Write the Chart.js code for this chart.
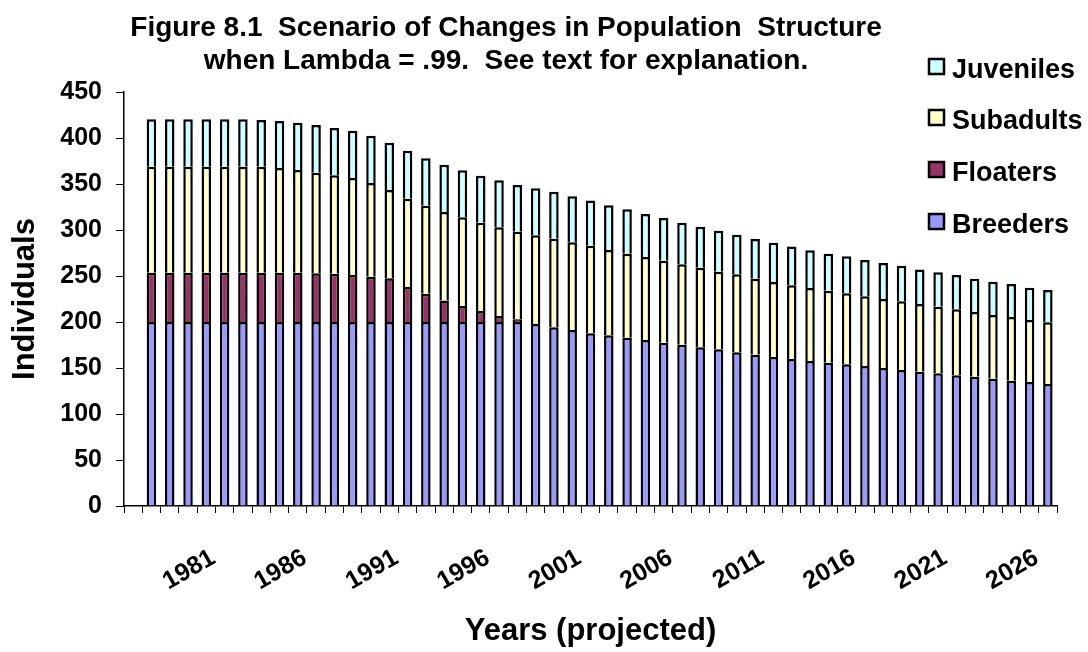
<!DOCTYPE html>
<html>
<head>
<meta charset="utf-8">
<script src="https://cdn.jsdelivr.net/npm/chart.js@4.4.1/dist/chart.umd.min.js"></script>
<style>
  html, body { margin: 0; padding: 0; background: #ffffff; }
  #wrap { position: relative; width: 1088px; height: 652px; background: #ffffff; }
  canvas { display: block; }
</style>
</head>
<body>
<div id="wrap"><canvas id="c" width="1088" height="652"></canvas></div>
<script>
// ---------------- data ----------------
const years = ['1977','1978','1979','1980','1981','1982','1983','1984','1985','1986',
  '1987','1988','1989','1990','1991','1992','1993','1994','1995','1996',
  '1997','1998','1999','2000','2001','2002','2003','2004','2005','2006',
  '2007','2008','2009','2010','2011','2012','2013','2014','2015','2016',
  '2017','2018','2019','2020','2021','2022','2023','2024','2025','2026','2027'];

const breeders = [null,
  200,200,200,200,200,200,200,200,200,200,
  200,200,200,200,200,200,200,200,200,200,200,
  197.8,194.2,191.3,187.7,185.5,183.0,180.4,177.5,175.4,172.5,
  170.3,167.0,164.5,162.0,159.8,157.6,155.8,154.0,152.2,150.0,
  147.8,146.0,144.2,142.0,140.6,138.4,136.2,134.8,132.6];

const floaters = [null,
  53.6,53.6,53.6,53.6,53.6,53.6,53.6,53.6,53.6,52.9,
  52.5,51.1,49.3,47.5,38.1,30.8,23.5,17.4,11.9,6.5,2.9,
  0,0,0,0,0,0,0,0,0,0,
  0,0,0,0,0,0,0,0,0,0,
  0,0,0,0,0,0,0,0,0];

const subadults = [null,
  115.2,115.2,115.2,115.2,115.2,115.2,115.2,113.8,111.6,109.4,
  106.9,105.4,101.8,96.0,95.9,95.6,96.1,96.4,96.1,96.4,95.3,
  96.4,96.4,95.3,95.3,92.8,91.3,90.2,89.2,87.3,86.6,
  84.4,84.8,82.6,81.5,80.1,79.3,78.3,77.2,75.7,75.0,
  74.7,73.6,72.5,71.8,70.3,69.2,69.2,67.4,67.0];

const juveniles = [null,
  51.5,51.5,51.5,51.5,51.5,51.5,50.8,51.1,51.5,51.8,
  51.5,51.5,51.4,51.4,52.2,51.5,51.4,51.1,51.1,51.1,50.7,
  51.1,51.1,50.0,49.2,48.5,48.2,46.8,46.3,45.3,44.5,
  44.6,43.1,43.1,42.7,42.3,41.0,40.2,40.2,39.5,39.1,
  38.7,37.6,37.3,37.3,36.2,36.2,35.9,35.1,35.2];

const yTicks = [0,50,100,150,200,250,300,350,400,450];
const titleLines = ['Figure 8.1  Scenario of Changes in Population  Structure',
                    'when Lambda = .99.  See text for explanation.'];
const seriesNames = ['Breeders','Floaters','Subadults','Juveniles'];
const seriesColors = ['#9999FF','#993366','#FFFFCC','#CCFFFF'];

// ---------------- chart ----------------
const FONT = "'Liberation Sans', Arial, Helvetica, sans-serif";

const decorPlugin = {
  id: 'decor',
  beforeDraw(chart) {
    const ctx = chart.ctx;
    ctx.save();
    ctx.fillStyle = '#ffffff';
    ctx.fillRect(0, 0, chart.width, chart.height);
    ctx.restore();
  },
  afterDraw(chart) {
    const ctx = chart.ctx;
    ctx.save();
    // title
    ctx.fillStyle = '#000000';
    ctx.font = 'bold 28px ' + FONT;
    ctx.textAlign = 'center';
    ctx.textBaseline = 'middle';
    ctx.fillText(titleLines[0], 506, 28);
    ctx.fillText(titleLines[1], 506, 61);
    // legend (reverse order, like the reference)
    const ys = [71, 122, 174, 226];
    const ds = chart.data.datasets;
    for (let i = 0; i < ds.length; i++) {
      const d = ds[ds.length - 1 - i];
      const y = ys[i];
      ctx.fillStyle = d.backgroundColor;
      ctx.fillRect(929, y - 12, 15, 15);
      ctx.lineWidth = 2.5;
      ctx.strokeStyle = '#000000';
      ctx.strokeRect(929, y - 12, 15, 15);
      ctx.fillStyle = '#000000';
      ctx.font = 'bold 27px ' + FONT;
      ctx.textAlign = 'left';
      ctx.textBaseline = 'middle';
      ctx.fillText(d.label, 952, y);
    }
    ctx.restore();
  }
};

const seriesData = [breeders, floaters, subadults, juveniles];
const datasets = seriesNames.map((name, i) => ({
  label: name,
  data: seriesData[i],
  backgroundColor: seriesColors[i],
  borderColor: '#000000',
  borderWidth: 2.5,
  borderSkipped: 'start',
  barPercentage: 0.52,
  categoryPercentage: 1.0
}));

new Chart(document.getElementById('c'), {
  type: 'bar',
  data: { labels: years, datasets: datasets },
  options: {
    responsive: false,
    animation: false,
    devicePixelRatio: 1,
    layout: { padding: { top: 92, right: 31, bottom: 0, left: 0 } },
    plugins: {
      legend: { display: false },
      title: { display: false },
      tooltip: { enabled: false }
    },
    scales: {
      x: {
        stacked: true,
        offset: true,
        border: { display: true, color: '#000000', width: 1.5 },
        grid: { display: true, drawOnChartArea: false, drawTicks: true, tickLength: 7, color: '#000000', offset: true },
        ticks: {
          autoSkip: false,
          minRotation: 30,
          maxRotation: 30,
          padding: 30,
          labelOffset: 7,
          color: '#000000',
          font: { family: FONT, size: 25, weight: 'bold' },
          callback: function (value) {
            const lab = this.getLabelForValue(value);
            return ((parseInt(lab, 10) - 1981) % 5 === 0) ? lab : '';
          }
        },
        title: {
          display: true,
          text: 'Years (projected)',
          color: '#000000',
          font: { family: FONT, size: 31, weight: 'bold' },
          padding: { top: 0, bottom: 2 }
        },
        afterFit: function (scale) {
          scale.height = 146;
          scale.paddingLeft = 0;
          scale.paddingRight = 0;
        }
      },
      y: {
        stacked: true,
        min: 0,
        max: 450,
        border: { display: true, color: '#000000', width: 1.5 },
        grid: { display: true, drawOnChartArea: false, drawTicks: true, tickLength: 8, color: '#000000' },
        afterBuildTicks: function (scale) { scale.ticks = yTicks.map(v => ({ value: v })); },
        ticks: {
          padding: 14,
          color: '#000000',
          font: { family: FONT, size: 25, weight: 'bold' }
        },
        title: {
          display: true,
          text: 'Individuals',
          color: '#000000',
          font: { family: FONT, size: 31, weight: 'bold' },
          padding: { top: 7, bottom: 0 }
        },
        afterFit: function (scale) { scale.width = 124; }
      }
    }
  },
  plugins: [decorPlugin]
});
</script>
</body>
</html>
